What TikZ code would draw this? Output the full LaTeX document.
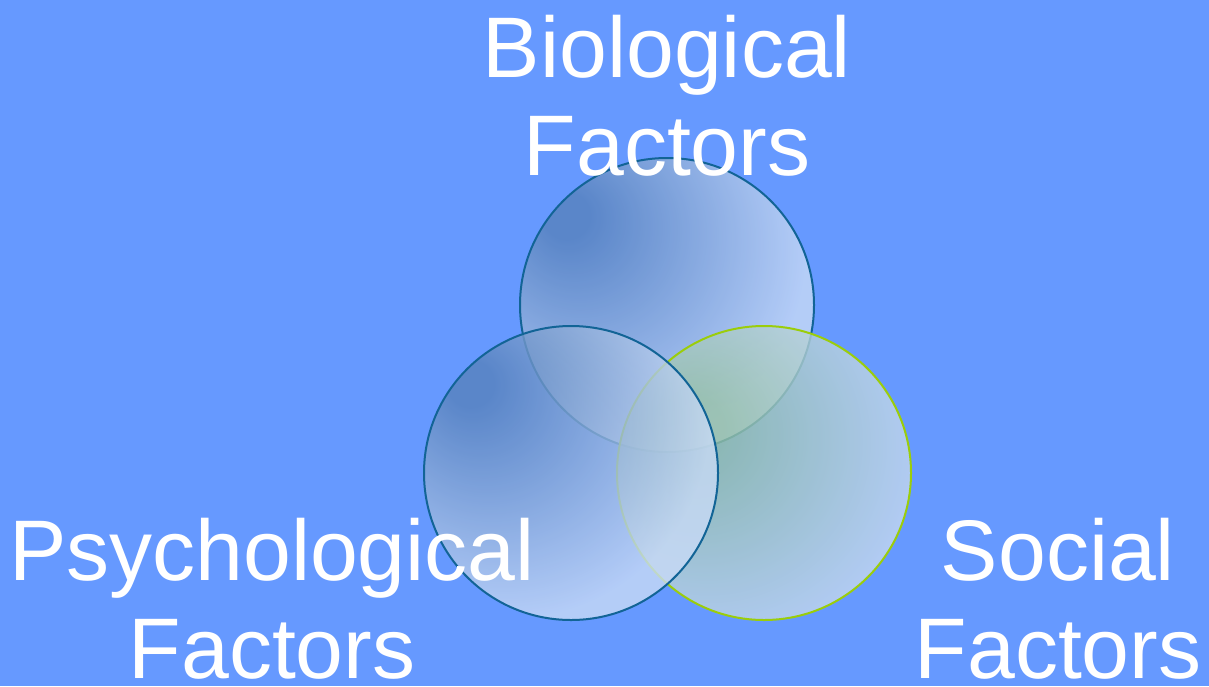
\documentclass[tikz,border=0pt]{standalone}
\usepackage{fontspec}
\setmainfont{Liberation Sans}

\definecolor{slide}{RGB}{102,153,255}
\definecolor{bluedark}{RGB}{88,130,188}
\definecolor{bluelight}{RGB}{200,218,246}
\definecolor{tealdark}{RGB}{150,192,165}
\definecolor{teallight}{RGB}{200,218,246}
\definecolor{rimblue}{RGB}{18,100,150}
\definecolor{rimgreen}{RGB}{155,205,10}

% soft spot up and to the left, fading out to the rim
\pgfdeclareradialshading{bluesheen}{\pgfpoint{-18bp}{16bp}}{%
  color(0bp)=(bluedark); color(4bp)=(bluedark);
  color(34bp)=(bluelight); color(80bp)=(bluelight)}
\pgfdeclareradialshading{tealsheen}{\pgfpoint{-14bp}{8bp}}{%
  color(0bp)=(tealdark); color(6bp)=(tealdark);
  color(36bp)=(teallight); color(80bp)=(teallight)}

\tikzstyle{factor}=[circle,minimum size=294pt,inner sep=0pt,
line width=2pt,shade,fill opacity=0.8]
\tikzstyle{caption}=[text=white,align=center,inner sep=0pt,
font=\fontsize{86}{98}\selectfont]

\begin{document}
\begin{tikzpicture}[x=1pt,y=-1pt]
\useasboundingbox (0,0) rectangle (1209,686);
\clip (0,0) rectangle (1209,686);
\fill [slide] (0,0) rectangle (1209,686);

% the three circles, top one first
\node [factor,shading=bluesheen,draw=rimblue] (bio) at (667,305) {};
\node [factor,shading=tealsheen,draw=rimgreen] (social) at (764,473) {};
\node [factor,shading=bluesheen,draw=rimblue] (psych) at (571,473) {};

% labels (base = last line)
\node [caption,anchor=base] (biotext) at (667,175) {Biological\\Factors};
\node [caption,anchor=base] (psychtext) at (272,678) {Psychological\\Factors};
\node [caption,anchor=base] (socialtext) at (1058,678) {Social\\Factors};
\end{tikzpicture}
\end{document}
